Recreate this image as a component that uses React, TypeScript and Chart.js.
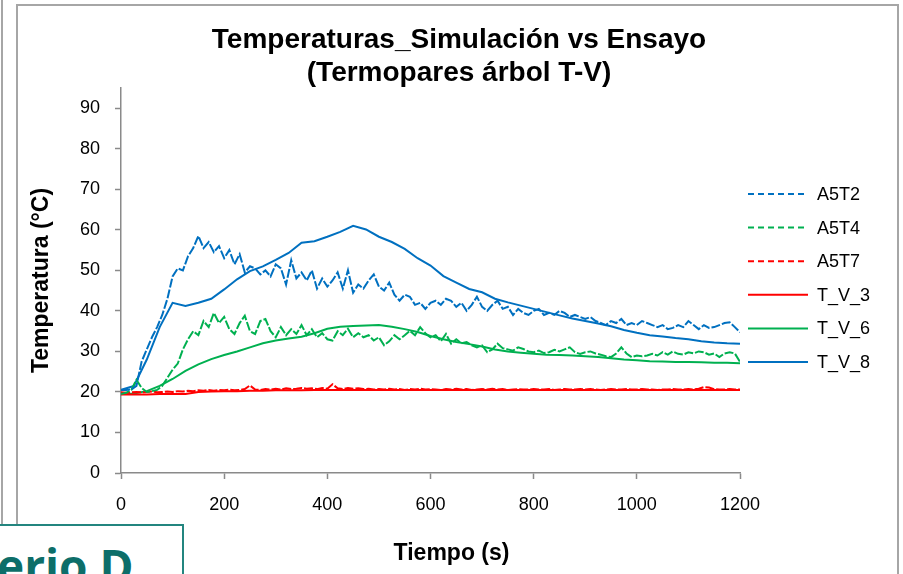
import React, { useEffect, useRef } from 'react';
import { Chart, registerables } from 'chart.js';

Chart.register(...registerables);

const FONT = '"Liberation Sans", Arial, sans-serif';

const TITLE_LINES = ['Temperaturas_Simulación vs Ensayo', '(Termopares árbol T-V)'];
const X_TITLE = 'Tiempo (s)';
const Y_TITLE = 'Temperatura (°C)';
const SERIES_NAMES = ['A5T2', 'A5T4', 'A5T7', 'T_V_3', 'T_V_6', 'T_V_8'];
const SERIES_COLORS = ['#0070C0', '#00B050', '#FF0000', '#FF0000', '#00B050', '#0070C0'];
const SERIES_DASHED = [true, true, true, false, false, false];

// Experimental series (ensayo), one value every EXP_STEP seconds from 0 to 1200 s
const EXP_STEP = 10;
const A5T2 = [
  20.5, 20.5, 20.6, 21.5, 27.5, 30.5, 33.5, 36.0, 39.0, 43.0,
  48.5, 50.5, 50.0, 53.5, 55.5, 58.5, 55.5, 57.0, 54.5, 56.0,
  53.0, 55.0, 51.5, 54.0, 49.5, 51.0, 50.5, 49.0, 50.0, 48.5,
  51.5, 50.5, 46.5, 52.5, 48.0, 49.5, 47.5, 50.0, 45.5, 48.0,
  46.0, 47.5, 49.5, 45.5, 50.0, 44.5, 46.5, 45.5, 47.5, 49.0,
  46.0, 45.0, 47.0, 44.0, 42.5, 44.0, 43.5, 41.5, 42.0, 40.5,
  42.0, 42.5, 41.5, 43.0, 42.5, 41.0, 42.0, 40.0, 41.5, 43.5,
  41.0, 40.0, 41.5, 42.5, 40.5, 41.0, 39.0, 40.5, 39.5, 39.0,
  40.0, 40.5, 39.0, 39.5, 39.0, 40.0, 39.5, 38.5, 39.0, 38.5,
  38.0, 38.5, 37.5, 37.0, 36.5, 37.5, 37.0, 38.0, 36.5, 37.0,
  36.5, 37.5, 37.0, 36.5, 36.0, 36.5, 35.5, 35.8, 36.5, 36.0,
  37.5, 36.5, 35.5, 36.5, 35.8, 36.0, 36.5, 37.0, 37.2, 36.0,
  34.7,
];
const A5T4 = [
  19.5, 19.8, 20.5, 23.0, 21.0, 20.0, 20.2, 20.5, 21.5, 23.5,
  25.5, 27.0, 30.5, 33.0, 35.0, 34.0, 37.5, 36.0, 39.5, 37.0,
  38.5, 35.5, 34.3, 37.0, 38.8, 35.0, 34.3, 37.5, 38.0, 35.0,
  33.5, 36.0, 34.0, 35.5, 34.3, 36.5, 34.0, 35.5, 33.5, 34.5,
  33.0, 32.7, 35.0, 34.0, 35.6, 33.5, 34.5, 33.5, 34.0, 32.7,
  33.5, 31.5, 32.5, 34.0, 33.0, 34.0, 35.1, 34.0, 36.0, 34.5,
  33.5, 34.0, 32.5, 34.3, 31.9, 33.0, 32.0, 32.3, 31.5, 31.0,
  31.5, 29.8, 30.5, 31.9, 30.8, 30.5, 30.2, 31.0, 30.6, 30.0,
  29.8, 30.2, 29.6, 29.8, 30.4, 30.0, 30.5, 31.0, 29.8, 29.4,
  29.8, 30.0, 29.5, 29.2, 28.8, 28.6, 29.5, 31.0, 29.5, 28.6,
  29.0, 28.8, 29.0, 29.4, 29.0, 29.8, 29.2, 30.0, 29.4, 29.2,
  29.8, 29.5, 30.0, 29.8, 29.2, 29.5, 28.6, 29.5, 29.8, 29.5,
  27.4,
];
const A5T7 = [
  19.9, 19.8, 19.9, 20.0, 19.9, 20.0, 20.1, 19.9, 20.0, 20.1,
  20.0, 20.2, 20.1, 20.3, 20.2, 20.4, 20.3, 20.5, 20.3, 20.5,
  20.4, 20.6, 20.4, 20.5, 20.7, 21.6, 20.6, 20.5, 20.7, 20.6,
  20.8, 20.6, 20.9, 20.7, 20.8, 21.0, 20.8, 20.9, 20.7, 21.0,
  20.8, 21.9, 20.9, 20.7, 21.0, 20.8, 20.9, 20.7, 20.8, 20.6,
  20.7, 20.6, 20.8, 20.6, 20.7, 20.5, 20.7, 20.6, 20.8, 20.6,
  20.7, 20.6, 20.5, 20.7, 20.6, 20.8, 20.6, 20.7, 20.5, 20.6,
  20.7, 20.6, 20.8, 20.6, 20.7, 20.5, 20.6, 20.7, 20.6, 20.6,
  20.7, 20.6, 20.6, 20.7, 20.5, 20.6, 20.7, 20.6, 20.6, 20.7,
  20.6, 20.7, 20.6, 20.5, 20.6, 20.7, 20.6, 20.6, 20.7, 20.6,
  20.6, 20.7, 20.6, 20.6, 20.5, 20.6, 20.6, 20.7, 20.6, 20.6,
  20.7, 20.6, 20.8, 21.2, 21.1, 20.7, 20.6, 20.6, 20.7, 20.6,
  20.6,
];

// Simulated series, one value every SIM_STEP seconds from 0 to 1200 s
const SIM_STEP = 25;
const T_V_3 = [
  19.4, 19.4, 19.4, 19.5, 19.5, 19.5, 20.0, 20.1, 20.2, 20.2,
  20.3, 20.3, 20.4, 20.4, 20.4, 20.5, 20.5, 20.5, 20.5, 20.5,
  20.5, 20.5, 20.5, 20.5, 20.5, 20.5, 20.5, 20.5, 20.5, 20.5,
  20.5, 20.5, 20.5, 20.5, 20.5, 20.5, 20.5, 20.5, 20.5, 20.5,
  20.5, 20.5, 20.5, 20.5, 20.5, 20.5, 20.5, 20.5, 20.5,
];
const T_V_6 = [
  19.5, 19.6, 20.2, 21.5, 23.2, 25.2, 26.8, 28.1, 29.1, 30.0,
  31.0, 32.0, 32.7, 33.2, 33.6, 34.5, 35.6, 36.1, 36.3, 36.4,
  36.5, 36.1, 35.5, 34.8, 33.8, 33.0, 32.3, 31.8, 31.2, 30.5,
  30.0, 29.7, 29.4, 29.2, 29.1, 29.0, 28.8, 28.6, 28.3, 28.0,
  27.8, 27.6, 27.5, 27.4, 27.4, 27.3, 27.2, 27.2, 27.1,
];
const T_V_8 = [
  20.5, 21.5, 28.0, 36.0, 42.0, 41.2, 42.0, 43.0, 45.3, 47.8,
  49.8, 51.0, 52.6, 54.3, 56.8, 57.2, 58.3, 59.5, 61.0, 60.1,
  58.3, 57.0, 55.3, 53.0, 51.2, 48.6, 47.0, 45.4, 44.6, 43.0,
  42.1, 41.3, 40.5, 39.7, 38.9, 38.1, 37.5, 36.9, 36.2, 35.3,
  34.6, 34.0, 33.7, 33.3, 33.0, 32.5, 32.2, 32.0, 31.9,
];

const X_MIN = 0;
const X_MAX = 1200;
const X_STEP = 200;
const Y_MIN = 0;
const Y_MAX = 95;
const Y_STEP = 10;
const Y_TICKS = [0, 10, 20, 30, 40, 50, 60, 70, 80, 90];

const SERIES_VALUES = [A5T2, A5T4, A5T7, T_V_3, T_V_6, T_V_8];
const SERIES_STEPS = [EXP_STEP, EXP_STEP, EXP_STEP, SIM_STEP, SIM_STEP, SIM_STEP];

const AXIS_GRAY = '#8a8a8a';

const sideLegendAndXTitle = {
  id: 'sideLegendAndXTitle',
  afterDraw(chart: any) {
    const { ctx, chartArea } = chart;
    const x0 = chartArea.right + 8;
    const len = 60;
    const startY = chartArea.top + 106;
    const gap = 33.6;
    ctx.save();
    chart.data.datasets.forEach((ds: any, i: number) => {
      const y = startY + i * gap;
      ctx.strokeStyle = ds.borderColor;
      ctx.lineWidth = 2;
      ctx.setLineDash(ds.borderDash && ds.borderDash.length ? [6, 4] : []);
      ctx.beginPath();
      ctx.moveTo(x0, y);
      ctx.lineTo(x0 + len, y);
      ctx.stroke();
      ctx.setLineDash([]);
      ctx.fillStyle = '#000';
      ctx.font = `18px ${FONT}`;
      ctx.textAlign = 'left';
      ctx.textBaseline = 'middle';
      ctx.fillText(ds.label, x0 + len + 9, y + 1);
    });
    ctx.font = `bold 23px ${FONT}`;
    ctx.fillStyle = '#000';
    ctx.textAlign = 'center';
    ctx.textBaseline = 'alphabetic';
    ctx.fillText(X_TITLE, chart.width / 2, chartArea.bottom + 86.5);
    ctx.restore();
  },
};

export default function App() {
  const canvasRef = useRef<HTMLCanvasElement | null>(null);

  useEffect(() => {
    const canvas = canvasRef.current;
    if (!canvas) return;
    const datasets = SERIES_NAMES.map((name, i) => ({
      label: name,
      data: SERIES_VALUES[i].map((v, k) => ({ x: k * SERIES_STEPS[i], y: v })),
      borderColor: SERIES_COLORS[i],
      backgroundColor: SERIES_COLORS[i],
      borderWidth: 2,
      borderDash: SERIES_DASHED[i] ? [9, 2] : [],
      pointRadius: 0,
      tension: 0,
      fill: false,
    }));
    const chart = new Chart(canvas, {
      type: 'line',
      data: { datasets },
      plugins: [sideLegendAndXTitle],
      options: {
        responsive: false,
        animation: false,
        devicePixelRatio: 1,
        layout: { padding: { left: 15, right: 0, top: 0, bottom: 0 } },
        plugins: {
          legend: { display: false },
          tooltip: { enabled: false },
          title: {
            display: true,
            text: TITLE_LINES,
            color: '#000',
            font: { family: FONT, size: 28, weight: 'bold', lineHeight: 33 / 28 },
            padding: { top: 23.5, bottom: -1.5 },
          },
        },
        scales: {
          x: {
            type: 'linear',
            min: X_MIN,
            max: X_MAX,
            ticks: {
              stepSize: X_STEP,
              padding: 15,
              color: '#000',
              maxRotation: 0,
              font: { family: FONT, size: 18 },
              callback: (v: any) => String(v),
            },
            grid: {
              display: true,
              drawOnChartArea: false,
              drawTicks: true,
              tickLength: 6,
              tickWidth: 1.5,
              tickColor: AXIS_GRAY,
              color: AXIS_GRAY,
            },
            border: { display: true, color: AXIS_GRAY, width: 1.5 },
            afterFit: (s: any) => {
              s.height = 101;
            },
          },
          y: {
            type: 'linear',
            min: Y_MIN,
            max: Y_MAX,
            ticks: {
              stepSize: Y_STEP,
              padding: 15,
              color: '#000',
              font: { family: FONT, size: 18 },
              callback: (v: any) => String(v),
            },
            afterBuildTicks: (s: any) => {
              s.ticks = Y_TICKS.map((v) => ({ value: v }));
            },
            grid: {
              display: true,
              drawOnChartArea: false,
              drawTicks: true,
              tickLength: 6,
              tickWidth: 1.5,
              tickColor: AXIS_GRAY,
              color: AXIS_GRAY,
            },
            border: { display: true, color: AXIS_GRAY, width: 1.5 },
            title: {
              display: true,
              text: Y_TITLE,
              color: '#000',
              font: { family: FONT, size: 23, weight: 'bold' },
              padding: { top: 13, bottom: 0 },
            },
            afterFit: (s: any) => {
              s.width = 106;
            },
          },
          yLegendSpace: {
            type: 'linear',
            position: 'right',
            display: true,
            ticks: { display: false },
            grid: { display: false },
            border: { display: false },
            afterFit: (s: any) => {
              s.width = 163;
            },
          },
        },
      },
    } as any);
    return () => chart.destroy();
  }, []);

  return (
    <div
      style={{
        position: 'fixed',
        left: 0,
        top: 0,
        width: 903,
        height: 574,
        overflow: 'hidden',
        background: '#fff',
      }}
    >
      <div
        style={{
          position: 'absolute',
          left: 1,
          top: -2,
          width: 0,
          height: 530,
          borderLeft: '2px solid #a6a6a6',
        }}
      />
      <div
        style={{
          position: 'absolute',
          left: 16,
          top: 4,
          width: 879,
          height: 600,
          border: '2px solid #a6a6a6',
        }}
      />
      <canvas
        ref={canvasRef}
        width={903}
        height={574}
        style={{ position: 'absolute', left: 0, top: 0 }}
      />
      <div
        style={{
          position: 'absolute',
          left: -4,
          top: 524,
          width: 184,
          height: 70,
          border: '2px solid #23857f',
          background: '#fff',
        }}
      />
      <div
        style={{
          position: 'absolute',
          left: -3,
          top: 542,
          fontFamily: '"Open Sans", sans-serif',
          fontWeight: 700,
          fontSize: 46,
          lineHeight: 1,
          color: '#0d6e69',
          whiteSpace: 'nowrap',
        }}
      >
        erio D
      </div>
    </div>
  );
}
